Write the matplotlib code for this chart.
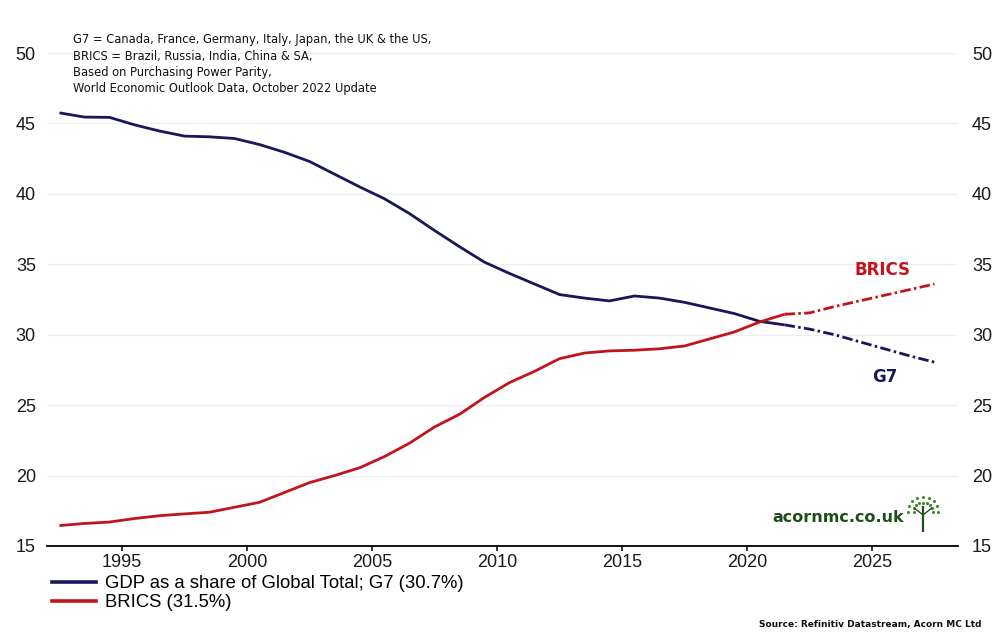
import matplotlib
matplotlib.use("Agg")
import matplotlib.pyplot as plt
from matplotlib.lines import Line2D
import numpy as np

# ---- data ----
years = list(range(1992, 2028))
g7 = [45.75, 45.45, 45.43, 44.9, 44.46, 44.1, 44.05, 43.93, 43.5, 42.95,
      42.3, 41.4, 40.5, 39.65, 38.6, 37.4, 36.25, 35.15, 34.35, 33.6,
      32.85, 32.6, 32.4, 32.75, 32.6, 32.3, 31.9, 31.5, 30.95, 30.7,
      30.4, 30.0, 29.5, 29.0, 28.5, 28.05]
brics = [16.45, 16.6, 16.7, 16.95, 17.15, 17.28, 17.4, 17.75, 18.1, 18.8,
         19.5, 20.0, 20.55, 21.35, 22.3, 23.45, 24.35, 25.55, 26.6, 27.4,
         28.3, 28.7, 28.85, 28.9, 29.0, 29.2, 29.7, 30.2, 30.9, 31.45,
         31.55, 32.0, 32.4, 32.8, 33.2, 33.6]
last_actual = 2021
xticks = [1995, 2000, 2005, 2010, 2015, 2020, 2025]
yticks = [15, 20, 25, 30, 35, 40, 45, 50]
legend_labels = ["GDP as a share of Global Total; G7 (30.7%)", "BRICS (31.5%)"]
notes = ["G7 = Canada, France, Germany, Italy, Japan, the UK & the US,",
         "BRICS = Brazil, Russia, India, China & SA,",
         "Based on Purchasing Power Parity,",
         "World Economic Outlook Data, October 2022 Update"]

G7_COL = "#17175a"
BR_COL = "#c2141c"

W, H = 996, 636
fig = plt.figure(figsize=(W / 100, H / 100), dpi=100)
fig.patch.set_facecolor("white")
ax = fig.add_axes([47 / W, 1 - 546 / H, (958 - 47) / W, (546 - 53) / H])

x = np.array(years) + 0.5  # annual values plotted at mid-year
k = years.index(last_actual)
dash = (0, (3.8, 1.2, 0.9, 1.2))
lw = 2.0
ax.plot(x[:k + 1], g7[:k + 1], color=G7_COL, lw=lw, solid_capstyle="butt")
ax.plot(x[k:], g7[k:], color=G7_COL, lw=lw, linestyle=dash)
ax.plot(x[:k + 1], brics[:k + 1], color=BR_COL, lw=lw, solid_capstyle="butt")
ax.plot(x[k:], brics[k:], color=BR_COL, lw=lw, linestyle=dash)

ax.set_xlim(1992.0, 2028.44)
ax.set_ylim(15, 50)
ax.set_xticks(xticks)
ax.set_yticks(yticks)
ax.yaxis.grid(True, color="#efefef", lw=0.9)
ax.set_axisbelow(True)
for s in ["top", "left", "right"]:
    ax.spines[s].set_visible(False)
ax.spines["bottom"].set_linewidth(1.3)
ax.tick_params(axis="x", direction="out", length=3.5, width=1.1, pad=2,
               labelsize=13)
ax.tick_params(axis="y", length=0, labelsize=13, pad=8,
               labelleft=True, labelright=True)
for lab in ax.get_yticklabels() + ax.get_xticklabels():
    lab.set_fontfamily("Liberation Sans")
    lab.set_color("#1a1a1a")
for t in ax.yaxis.get_major_ticks():
    t.label2.set_x(1.003)

# series labels
ax.text(2025.4, 34.57, "BRICS", color=BR_COL, fontsize=12, fontweight="bold",
        ha="center", va="center", family="DejaVu Sans")
ax.text(2025.5, 26.98, "G7", color=G7_COL, fontsize=12, fontweight="bold",
        ha="center", va="center", family="DejaVu Sans")

# notes
for i, line in enumerate(notes):
    fig.text(73 / W, 1 - (40 + i * 16.2) / H, line, fontsize=8.3,
             family="DejaVu Sans", color="#111111", va="center", ha="left")

# legend
handles = [Line2D([], [], color=G7_COL, lw=2.6),
           Line2D([], [], color=BR_COL, lw=2.6)]
leg = fig.legend(handles, legend_labels, loc="upper left",
                 bbox_to_anchor=(52 / W, 1 - 575 / H), frameon=False,
                 handlelength=2.4, handletextpad=0.45,
                 labelspacing=0.12, borderpad=0, borderaxespad=0,
                 prop={"family": "Liberation Sans", "size": 13.3})

# logo
fig.text(838 / W, 1 - 517 / H, "acornmc.co.uk", fontsize=11.5,
         fontweight="bold", color="#1f4d1a", family="DejaVu Sans",
         ha="center", va="center")
lax = fig.add_axes([904 / W, 1 - 532 / H, 38 / W, 38 / H])
lax.set_xlim(-1, 1)
lax.set_ylim(-1, 1)
lax.axis("off")
lax.plot([0, 0], [-0.95, 0.3], color="#2a4a22", lw=1.6)
lax.plot([0, -0.45], [-0.1, 0.25], color="#2a4a22", lw=1.0)
lax.plot([0, 0.45], [-0.1, 0.25], color="#2a4a22", lw=1.0)
ang = np.linspace(0, np.pi, 9)
for r, s in [(0.8, 5), (0.5, 5)]:
    lax.scatter(r * np.cos(ang), 0.05 + r * np.sin(ang), s=s, color="#3f8a2e",
                linewidths=0)

# source
fig.text(981 / W, 1 - 625 / H, "Source: Refinitiv Datastream, Acorn MC Ltd",
         fontsize=6.5, fontweight="bold", family="DejaVu Sans",
         color="#111111", ha="right", va="center")

fig.savefig("out.png", dpi=100, facecolor="white")
